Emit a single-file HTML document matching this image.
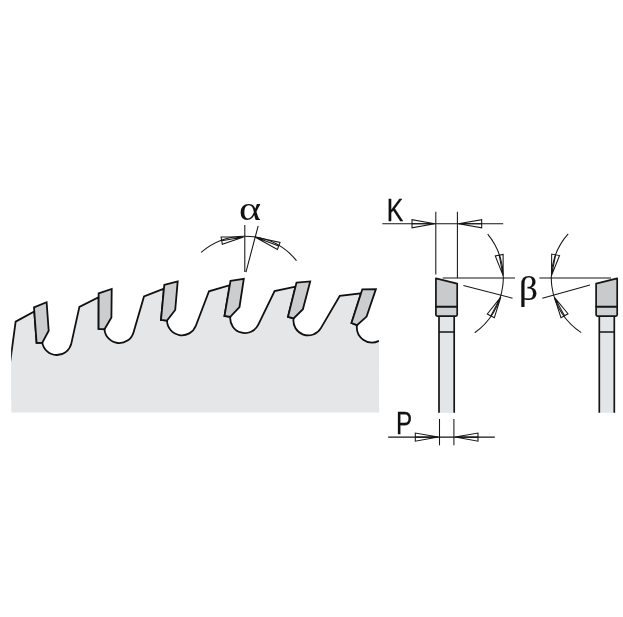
<!DOCTYPE html>
<html><head><meta charset="utf-8"><title>Saw blade tooth geometry</title>
<style>
html,body{margin:0;padding:0;background:#fff;}
body{width:623px;height:617px;overflow:hidden;}
svg{display:block;}
.sans{font-family:"Liberation Sans","DejaVu Sans",sans-serif;}
.serif{font-family:"Liberation Serif","DejaVu Serif",serif;}
</style></head>
<body>
<svg width="623" height="617" viewBox="0 0 623 617">
<rect width="623" height="617" fill="#fff"/>
<defs><clipPath id="bc"><rect x="11.1" y="250" width="368.35" height="170"/></clipPath></defs>
<g clip-path="url(#bc)">
<path d="M10.25,361.5 L15.65,321.6 L34.3,311.4 L36.6,342.9 L42.3,342.6 A14.8 14.8 0 0 0 71.35,343.4 L79.4,306.9 L98.64,297.2 L98.6,328.9 L104.5,329.2 A14.81 14.81 0 0 0 133.5,332.4 L144,296.4 L163.95,288.6 L161,319.9 L167,320.6 A14.92 14.92 0 0 0 195.85,325.7 L209,291.3 L229.76,285.2 L224.5,316 L230.25,316.9 A14.8 14.8 0 0 0 258.3,324.7 L274.6,291.1 L295.48,286.7 L288,316.85 L293.6,318.4 A14.75 14.75 0 0 0 320.9,328.1 L339.8,295.85 L361.02,293.3 L351.5,323 L357,325.2 A15.2 15.2 0 0 0 378.9,340.9 L379.3,412.6 L11.4,412.6 Z" fill="#e5e6e7" stroke="none"/>
<path d="M10.25,361.5 L15.65,321.6 L34.3,311.4 L36.6,342.9 L42.3,342.6 A14.8 14.8 0 0 0 71.35,343.4 L79.4,306.9 L98.64,297.2 L98.6,328.9 L104.5,329.2 A14.81 14.81 0 0 0 133.5,332.4 L144,296.4 L163.95,288.6 L161,319.9 L167,320.6 A14.92 14.92 0 0 0 195.85,325.7 L209,291.3 L229.76,285.2 L224.5,316 L230.25,316.9 A14.8 14.8 0 0 0 258.3,324.7 L274.6,291.1 L295.48,286.7 L288,316.85 L293.6,318.4 A14.75 14.75 0 0 0 320.9,328.1 L339.8,295.85 L361.02,293.3 L351.5,323 L357,325.2 A15.2 15.2 0 0 0 378.9,340.9" fill="none" stroke="#111" stroke-width="1.8" stroke-linejoin="miter" stroke-linecap="butt"/>
<g fill="#cbcdcf" stroke="#111" stroke-width="1.8" stroke-linejoin="miter"><polygon points="34,307.3 46.6,302.2 48.7,330.7 42.3,342.6 36.6,342.9"/><polygon points="98.65,293.3 111.7,289 111.4,317.5 104.5,329.2 98.6,328.9"/><polygon points="164.3,284.85 177.7,281.4 175.2,310 167,320.6 161,319.9"/><polygon points="230.5,280.9 243.8,278.9 239.5,307 230.25,316.9 224.5,316"/><polygon points="296.5,282.6 310.2,281.4 302.9,309.2 293.6,318.4 288,316.85"/><polygon points="362.3,289.3 375.9,289.1 366.6,316.6 357,325.2 351.5,323"/></g>
</g>
<g fill="none" stroke="#151515" stroke-width="1.05" stroke-linejoin="miter">
<path d="M244.8,225.1 L244.8,272.1 M258.2,225.8 L245.95,272.1"/>
<path d="M201.1,252.3 A67.15 67.15 0 0 1 296.5,260.6"/>
<path d="M243.6,237 L221.09,237 L222.31,244.3 Z M243.6,237 L221.7,240.65"/>
<path d="M255,237 L277.43,249.46 L280.07,242.44 Z M255,237 L278.75,245.95"/>
<path d="M382.3,223.75 L503.2,223.75 M435.8,211.8 L435.8,274.6 M457.4,211.8 L457.4,278"/>
<path d="M434.8,223.75 L412,219.7 L412,227.8 Z M434.8,223.75 L412,223.75"/>
<path d="M458.5,223.75 L481.7,227.8 L481.7,219.7 Z M458.5,223.75 L481.7,223.75"/>
<path d="M388.2,437.1 L494.8,437.1 M439.5,419 L439.5,445.3 M453.9,419 L453.9,445.3"/>
<path d="M438.3,437.1 L415.3,433.05 L415.3,441.15 Z M438.3,437.1 L415.3,437.1"/>
<path d="M455.2,437.1 L478,441.15 L478,433.05 Z M455.2,437.1 L478,437.1"/>
<path d="M442.7,277.95 L515.0,277.95 M463.4,285.6 L512.5,298.2"/>
<path d="M487.7,234.1 A67.93 67.93 0 0 1 474.7,332.8"/>
<path d="M503.1,275.6 L503.13,254.45 L495.27,255.95 Z M503.1,275.6 L499.2,255.2"/>
<path d="M500.8,297.1 L487.27,314.02 L494.33,317.78 Z M500.8,297.1 L490.8,315.9"/>
<path d="M611.1,277.95 L539.4,277.95 M590.0,285.0 L542.3,298.2"/>
<path d="M568.2,233.9 A65.27 65.27 0 0 0 581.2,332.6"/>
<path d="M551.5,275.6 L559.52,255.57 L551.68,254.03 Z M551.5,275.6 L555.6,254.8"/>
<path d="M554.4,297.3 L560.99,317.62 L568.01,313.78 Z M554.4,297.3 L564.5,315.7"/>
</g>
<g stroke="#141616" stroke-width="1.7" stroke-linejoin="round">
<rect x="439.0" y="316.15" width="15.2" height="96.65" fill="#e4e5e6" stroke="none"/><path d="M439.0,316.15 L439.0,412.8 M454.2,316.15 L454.2,412.8 M439.0,332 L454.2,332" fill="none"/><path d="M435.9,306.6 L435.9,314.85 Q435.9,316.15 437.2,316.15 L455.9,316.15 Q457.2,316.15 457.2,314.85 L457.2,306.6 Z" fill="#d0d1d3"/><path d="M435.9,278.35 L457.2,283.6 L457.2,306.6 L435.9,306.6 Z" fill="#c9cacc"/>
<rect x="599.3" y="316.15" width="15" height="96.65" fill="#e4e5e6" stroke="none"/><path d="M599.3,316.15 L599.3,412.8 M614.3,316.15 L614.3,412.8 M599.3,332 L614.3,332" fill="none"/><path d="M596.1,306.6 L596.1,314.85 Q596.1,316.15 597.4,316.15 L615.9,316.15 Q617.2,316.15 617.2,314.85 L617.2,306.6 Z" fill="#d0d1d3"/><path d="M596.1,283.6 L617.2,278.35 L617.2,306.6 L596.1,306.6 Z" fill="#c9cacc"/>
</g>
<g opacity="0.999" fill="#111" stroke="#111">
<text class="serif" transform="translate(239.0,219.86) scale(1.2466,1)" font-size="33.7" stroke="none">α</text>
<text class="serif" transform="translate(518.9,299.6) scale(1.113,1)" font-size="33.3" stroke-width="0.2">β</text>
<text class="sans" transform="translate(386.71,220.5) scale(0.776,1)" font-size="32" stroke-width="0.3">K</text>
<text class="sans" transform="translate(396.0,433.65) scale(0.758,1)" font-size="32" stroke-width="0.3">P</text>
</g>
</svg>
</body></html>
